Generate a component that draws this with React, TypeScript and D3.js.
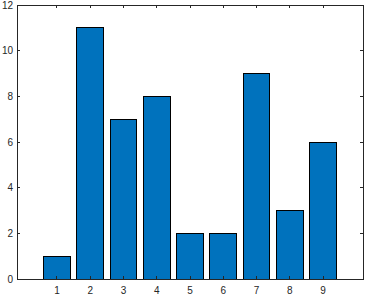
import React from "react";
import * as d3 from "d3";

const categories = [1, 2, 3, 4, 5, 6, 7, 8, 9];
const values = [1, 11, 7, 8, 2, 2, 9, 3, 6];
const yTicks = [0, 2, 4, 6, 8, 10, 12];

export default function App() {
  const W = 366, H = 297;
  const left = 17, right = 363, top = 5, bottom = 279;
  const x = d3.scaleLinear().domain([-0.2, 10.2]).range([left, right]);
  const y = d3.scaleLinear().domain([0, 12]).range([bottom, top]);
  const bw = x(0.8) - x(0);
  const axisColor = "#262626";
  const tl = 3;
  return (
    <svg width={W} height={H} style={{ position: "absolute", left: 0, top: 0, background: "#fff" }}
      fontFamily="'Liberation Sans', Arial, sans-serif" fontSize={10}>
      <rect x={0} y={0} width={W} height={H} fill="#fff" />
      {categories.map((c, i) => (
        <rect key={c} x={x(c) - bw / 2} y={y(values[i])} width={bw} height={y(0) - y(values[i])}
          fill="#0072BD" stroke="#000" strokeWidth={1} shapeRendering="crispEdges" />
      ))}
      <rect x={left} y={top} width={right - left} height={bottom - top} fill="none"
        stroke={axisColor} strokeWidth={1} shapeRendering="crispEdges" />
      {categories.map((c) => (
        <g key={"xt" + c}>
          <line x1={x(c)} x2={x(c)} y1={bottom} y2={bottom - tl} stroke={axisColor} shapeRendering="crispEdges" />
          <line x1={x(c)} x2={x(c)} y1={top} y2={top + tl} stroke={axisColor} shapeRendering="crispEdges" />
          <text x={x(c)} y={294} textAnchor="middle" fill={axisColor}>{c}</text>
        </g>
      ))}
      {yTicks.map((t) => (
        <g key={"yt" + t}>
          <line x1={left} x2={left + tl} y1={y(t)} y2={y(t)} stroke={axisColor} shapeRendering="crispEdges" />
          <line x1={right} x2={right - tl} y1={y(t)} y2={y(t)} stroke={axisColor} shapeRendering="crispEdges" />
          <text x={left - 4} y={y(t)} dy="0.35em" textAnchor="end" fill={axisColor}>{t}</text>
        </g>
      ))}
    </svg>
  );
}
